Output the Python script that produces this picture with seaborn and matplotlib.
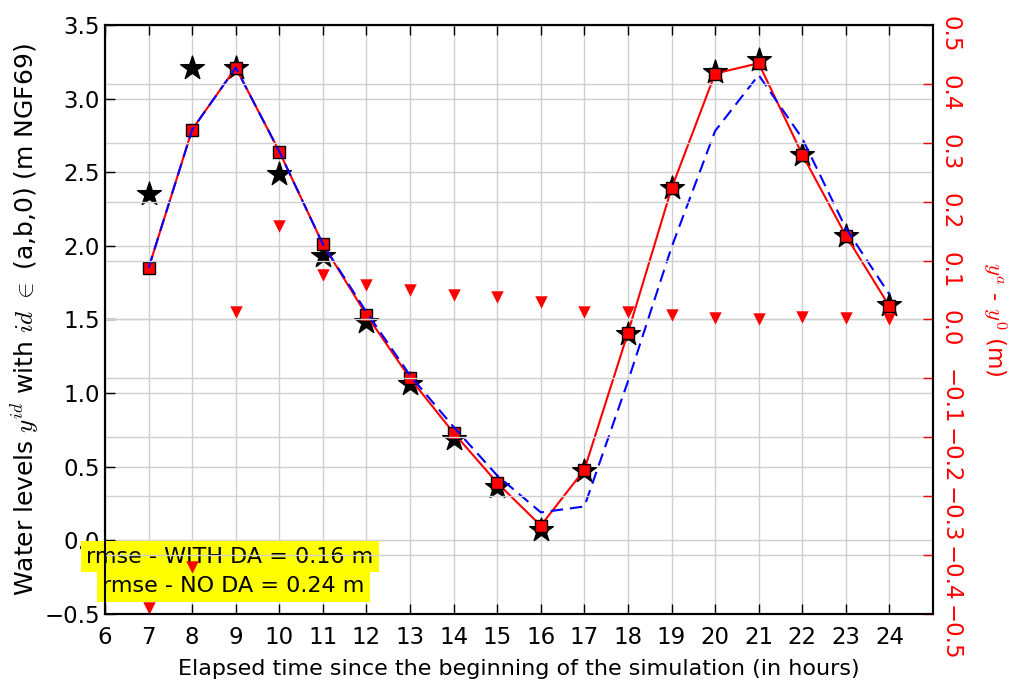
import numpy as np
import pandas as pd
import matplotlib
matplotlib.use("Agg")
import matplotlib.pyplot as plt
import seaborn as sns

# --- data ---
hours = list(range(7, 25))
obs = [2.35, 3.21, 3.21, 2.49, 1.93, 1.48, 1.06, 0.69, 0.36, 0.07,
       0.47, 1.40, 2.39, 3.18, 3.26, 2.62, 2.07, 1.60]
with_da = [1.85, 2.79, 3.21, 2.64, 2.01, 1.53, 1.10, 0.73, 0.39, 0.10,
           0.48, 1.41, 2.39, 3.17, 3.24, 2.62, 2.07, 1.59]
no_da = [1.85, 2.79, 3.21, 2.64, 2.01, 1.55, 1.12, 0.77, 0.44, 0.19,
         0.23, 1.08, 1.99, 2.78, 3.16, 2.73, 2.12, 1.67]
diff = [-0.49, -0.42, 0.013, 0.158, 0.076, 0.059, 0.050, 0.042, 0.038, 0.029,
        0.0125, 0.0125, 0.007, 0.002, 0.001, 0.004, 0.002, 0.001]
rmse_with_da = 0.16
rmse_no_da = 0.24

df = pd.DataFrame({'hour': hours, 'obs': obs, 'with_da': with_da,
                   'no_da': no_da, 'diff': diff})

sns.set_theme(style="whitegrid", rc={
    'axes.edgecolor': 'black',
    'axes.linewidth': 1.5,
    'axes.labelcolor': 'black',
    'text.color': 'black',
    'xtick.color': 'black',
    'ytick.color': 'black',
    'grid.color': '#d0d0d0',
    'grid.linewidth': 1.0,
    'xtick.direction': 'in',
    'ytick.direction': 'in',
    'xtick.major.size': 7,
    'ytick.major.size': 7,
    'xtick.major.width': 1,
    'ytick.major.width': 1,
    'mathtext.fontset': 'cm',
})
plt.rcParams['font.family'] = ['DejaVu Sans']

fig = plt.figure(figsize=(10.13, 6.88), dpi=100)
ax = fig.add_axes([0.1037, 0.1076, 0.8173, 0.8561])

# observations (stars)
sns.scatterplot(data=df, x='hour', y='obs', marker='*', s=320, color='black',
                edgecolor='black', linewidth=1, ax=ax, zorder=3, legend=False)
# with DA : red line + squares
sns.lineplot(data=df, x='hour', y='with_da', color='red', linewidth=1.5,
             marker='s', markersize=8, markerfacecolor='red',
             markeredgecolor='black', markeredgewidth=1, ax=ax, zorder=4)
# no DA : blue dashed
sns.lineplot(data=df, x='hour', y='no_da', color='blue', linewidth=1.5,
             linestyle=(0, (6, 3.3)), ax=ax, zorder=5)

ax.set_xlim(6, 25)
ax.set_ylim(-0.5, 3.5)
ax.set_xticks(np.arange(6, 25, 1))
ax.set_yticks(np.arange(-0.5, 3.51, 0.5))
ax.tick_params(axis='x', top=True, bottom=True, labelsize=16.5, pad=9)
ax.tick_params(axis='y', left=True, right=False, labelsize=16.5)
ax.set_xlabel('Elapsed time since the beginning of the simulation (in hours)',
              fontsize=16, labelpad=7)
ax.set_ylabel(r'Water levels $y^{id}$ with $id$ $\in$ (a,b,0) (m NGF69)',
              fontsize=18, labelpad=2)

ax.text(0.151, 0.097, 'rmse - WITH DA = %.2f m' % rmse_with_da,
        transform=ax.transAxes, ha='center', va='center', fontsize=16,
        bbox=dict(facecolor='yellow', edgecolor='none', pad=4),
        clip_on=False, zorder=10)
ax.text(0.155, 0.047, 'rmse - NO DA = %.2f m' % rmse_no_da,
        transform=ax.transAxes, ha='center', va='center', fontsize=16,
        bbox=dict(facecolor='yellow', edgecolor='none', pad=4),
        clip_on=False, zorder=10)

# difference on the right axis
ax2 = ax.twinx()
sns.scatterplot(data=df, x='hour', y='diff', marker='v', s=80, color='red',
                edgecolor='red', linewidth=0, ax=ax2, legend=False)
ax2.set_ylim(-0.5, 0.5)
ax2.set_yticks(np.round(np.arange(-0.5, 0.51, 0.1), 1))
ax2.tick_params(axis='y', colors='red', labelsize=16.5, labelrotation=-90,
                direction='in', length=7, pad=4)
ax2.grid(True, color='#d0d0d0', linewidth=1.0)
ax2.grid(False, axis='x')
ax2.set_ylabel(r'$y^a$ - $y^0$ (m)', color='red', fontsize=16.5,
               rotation=-90, labelpad=34)
for s in ax2.spines.values():
    s.set_color('black')
    s.set_linewidth(1.5)

fig.savefig('out.png', dpi=100)
